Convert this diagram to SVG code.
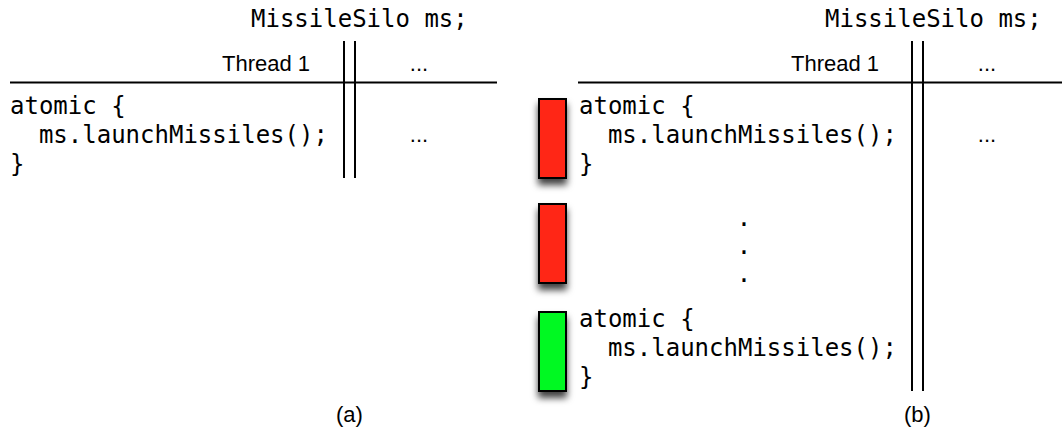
<svg xmlns="http://www.w3.org/2000/svg" width="1062" height="432" viewBox="0 0 1062 432">
<style>
.mono{font-family:"DejaVu Sans Mono","Liberation Mono",monospace;font-size:24px;fill:#000}
.sans{font-family:"Liberation Sans",Arial,sans-serif;font-size:22px;fill:#000}
.ln{stroke:#000;stroke-width:2;fill:none}
.red{fill:#ff2716;stroke:#000;stroke-width:2}
.green{fill:#00f920;stroke:#000;stroke-width:2}
</style>
<defs>
<filter id="sh" x="-50%" y="-30%" width="200%" height="160%">
<feDropShadow dx="0" dy="6" stdDeviation="3.5" flood-color="#000" flood-opacity="0.75"/>
</filter>
</defs>
<g id="panel-a">
<text class="mono" x="251" y="27">MissileSilo ms;</text>
<text class="sans" x="222" y="71">Thread 1</text>
<text class="sans" x="419" y="71" text-anchor="middle">...</text>
<text class="mono" x="10" y="114">atomic {</text>
<text class="mono" x="10" y="143" xml:space="preserve">  ms.launchMissiles();</text>
<text class="mono" x="10" y="172">}</text>
<text class="sans" x="419" y="142" text-anchor="middle">...</text>
<text class="sans" x="349.5" y="422" text-anchor="middle">(a)</text>
</g>
<g id="panel-b">
<text class="mono" x="825" y="27">MissileSilo ms;</text>
<text class="sans" x="791" y="71">Thread 1</text>
<text class="sans" x="987" y="71" text-anchor="middle">...</text>
<text class="mono" x="579" y="114">atomic {</text>
<text class="mono" x="579" y="143" xml:space="preserve">  ms.launchMissiles();</text>
<text class="mono" x="579" y="172">}</text>
<text class="sans" x="987" y="142" text-anchor="middle">...</text>
<text class="mono" x="744" y="226" text-anchor="middle">.</text>
<text class="mono" x="744" y="254" text-anchor="middle">.</text>
<text class="mono" x="744" y="282" text-anchor="middle">.</text>
<text class="mono" x="579" y="327">atomic {</text>
<text class="mono" x="579" y="356" xml:space="preserve">  ms.launchMissiles();</text>
<text class="mono" x="579" y="385">}</text>
<text class="sans" x="917.5" y="422" text-anchor="middle">(b)</text>
</g>
<g id="bar-1"><rect class="red" x="539" y="99" width="27" height="79" filter="url(#sh)"/></g>
<g id="bar-2"><rect class="red" x="539" y="204" width="27" height="79" filter="url(#sh)"/></g>
<g id="bar-3"><rect class="green" x="539" y="312" width="27" height="79" filter="url(#sh)"/></g>
<g id="connectors">
<line class="ln" x1="10" y1="82.5" x2="497" y2="82.5"/>
<line class="ln" x1="344" y1="41" x2="344" y2="178"/>
<line class="ln" x1="355" y1="41" x2="355" y2="178"/>
<line class="ln" x1="578" y1="82.5" x2="1062" y2="82.5"/>
<line class="ln" x1="912" y1="41" x2="912" y2="391"/>
<line class="ln" x1="923" y1="41" x2="923" y2="391"/>
</g>
</svg>
